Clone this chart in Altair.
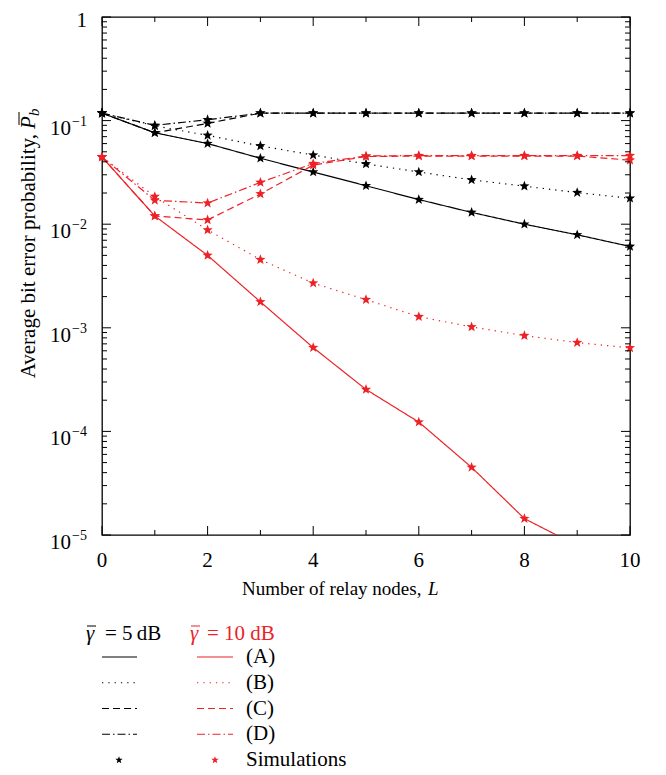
import math
import pandas as pd
import altair as alt

# ---------------- data ----------------
L = list(range(11))
snr_levels = ["5 dB", "10 dB"]
cases = ["A", "B", "C", "D"]

pb_5dB_A = [0.118, 0.0763, 0.060, 0.0433, 0.0319, 0.0235, 0.0173, 0.0130, 0.0100, 0.0079, 0.0061]
pb_5dB_B = [0.118, 0.089, 0.072, 0.057, 0.0465, 0.0382, 0.0319, 0.0268, 0.0233, 0.0202, 0.0178]
pb_5dB_C = [0.118, 0.0763, 0.094, 0.118, 0.118, 0.118, 0.118, 0.118, 0.118, 0.118, 0.118]
pb_5dB_D = [0.118, 0.090, 0.102, 0.118, 0.118, 0.118, 0.118, 0.118, 0.118, 0.118, 0.118]
pb_10dB_A = [0.0445, 0.0120, 0.0050, 0.00178, 0.000644, 0.000254, 0.000123, 0.000045, 0.0000144, 0.0000079, 0.0000040]
pb_10dB_B = [0.0445, 0.0185, 0.0088, 0.00455, 0.0027, 0.00187, 0.00128, 0.00102, 0.00084, 0.00072, 0.00064]
pb_10dB_C = [0.0445, 0.0120, 0.0110, 0.0196, 0.0372, 0.0450, 0.0455, 0.0455, 0.0455, 0.0455, 0.0415]
pb_10dB_D = [0.0445, 0.0170, 0.0160, 0.0253, 0.0385, 0.0455, 0.0460, 0.0460, 0.0460, 0.0460, 0.0460]

x_major = [0, 2, 4, 6, 8, 10]
x_labels = ["0", "2", "4", "6", "8", "10"]
x_minor = [1, 3, 5, 7, 9]
y_major = [1, 0.1, 0.01, 0.001, 0.0001, 0.00001]
y_base = ["1", "10", "10", "10", "10", "10"]
y_exp = ["", "\u22121", "\u22122", "\u22123", "\u22124", "\u22125"]
y_minor = [m * 10.0 ** e for e in range(-5, 0) for m in range(2, 10)]

legend_rows = ["(A)", "(B)", "(C)", "(D)", "Simulations"]
legend_headers = ["= 5\u2009dB", "= 10 dB"]

series = [
    ("5 dB", "A", pb_5dB_A), ("5 dB", "B", pb_5dB_B),
    ("5 dB", "C", pb_5dB_C), ("5 dB", "D", pb_5dB_D),
    ("10 dB", "A", pb_10dB_A), ("10 dB", "B", pb_10dB_B),
    ("10 dB", "C", pb_10dB_C), ("10 dB", "D", pb_10dB_D),
]
records = []
for snr, case, vals in series:
    for l, v in zip(L, vals):
        records.append({"L": l, "Pb": v, "snr": snr, "case": case, "key": snr + case})
df = pd.DataFrame(records)

# ---------------- styling ----------------
W, H = 528, 518
FONT = "Liberation Serif"
RED = "#ec2227"

pts = []
for k in range(10):
    a = math.radians(-90 + 36 * k)
    r = 1.0 if k % 2 == 0 else 0.42
    pts.append(f"{r * math.cos(a):.3f},{r * math.sin(a):.3f}")
STAR = "M" + " L".join(pts) + " Z"

xs = alt.Scale(domain=[0, 10], nice=False, zero=False)
ys = alt.Scale(type="log", domain=[1e-5, 1], nice=False)
color_scale = alt.Scale(domain=snr_levels, range=["black", RED])
dash_scale = alt.Scale(domain=cases, range=[[1, 0], [1.3, 5], [7, 4], [8, 3, 1.5, 3]])

X = alt.X("L:Q", scale=xs, axis=None)
Y = alt.Y("Pb:Q", scale=ys, axis=None)

lines = alt.Chart(df).mark_line(strokeWidth=1.2, clip=True).encode(
    x=X, y=Y,
    color=alt.Color("snr:N", scale=color_scale, legend=None),
    strokeDash=alt.StrokeDash("case:N", scale=dash_scale, legend=None),
    detail="key:N",
)
stars = alt.Chart(df).transform_filter("datum.Pb >= 1e-5").mark_point(
    shape=STAR, filled=True, size=115, opacity=1
).encode(x=X, y=Y, color=alt.Color("snr:N", scale=color_scale, legend=None))

# ticks (inside the frame, on all four sides)
tick_layers = []
for vals, ln in [(x_major, 9), (x_minor, 5)]:
    tdf = pd.DataFrame({"v": vals})
    base = alt.Chart(tdf).mark_rule(color="black", strokeWidth=1)
    tick_layers.append(base.encode(x=alt.X("v:Q", scale=xs, axis=None), y=alt.value(H), y2=alt.value(H - ln)))
    tick_layers.append(base.encode(x=alt.X("v:Q", scale=xs, axis=None), y=alt.value(0), y2=alt.value(ln)))
for vals, ln in [(y_major, 9), (y_minor, 5)]:
    tdf = pd.DataFrame({"v": vals})
    base = alt.Chart(tdf).mark_rule(color="black", strokeWidth=1)
    tick_layers.append(base.encode(y=alt.Y("v:Q", scale=ys, axis=None), x=alt.value(0), x2=alt.value(ln)))
    tick_layers.append(base.encode(y=alt.Y("v:Q", scale=ys, axis=None), x=alt.value(W), x2=alt.value(W - ln)))

# tick labels
xlab_df = pd.DataFrame({"v": x_major, "lab": x_labels})
xlabels = alt.Chart(xlab_df).mark_text(
    align="center", baseline="alphabetic", fontSize=21, font=FONT, color="black"
).encode(x=alt.X("v:Q", scale=xs, axis=None), y=alt.value(H + 32), text="lab:N")

ylab_df = pd.DataFrame({"v": y_major, "base": y_base, "exp": y_exp})
ybase = alt.Chart(ylab_df).transform_filter("datum.exp != ''").mark_text(
    align="right", baseline="alphabetic", dy=14, fontSize=21, font=FONT, color="black"
).encode(y=alt.Y("v:Q", scale=ys, axis=None), x=alt.value(-31), text="base:N")
yexp = alt.Chart(ylab_df).transform_filter("datum.exp != ''").mark_text(
    align="left", baseline="alphabetic", dy=5, fontSize=14, font=FONT, color="black"
).encode(y=alt.Y("v:Q", scale=ys, axis=None), x=alt.value(-30), text="exp:N")
yone = alt.Chart(ylab_df).transform_filter("datum.exp == ''").mark_text(
    align="right", baseline="alphabetic", dy=10, fontSize=21, font=FONT, color="black"
).encode(y=alt.Y("v:Q", scale=ys, axis=None), x=alt.value(-15), text="base:N")

# axis titles
one_row = pd.DataFrame({"t": ["Number of relay nodes,", "L", "Average bit error probability,", "P", "b"]})
def title_text(i, **kw):
    return alt.Chart(one_row).transform_filter(f"datum.t == '{one_row.t[i]}'").mark_text(
        font=FONT, color="black", baseline="alphabetic", **kw)

xt1 = title_text(0, align="left", fontSize=19).encode(text="t:N", x=alt.value(140), y=alt.value(H + 60))
xt2 = title_text(1, align="left", fontSize=19, fontStyle="italic").encode(text="t:N", x=alt.value(326), y=alt.value(H + 60))
yt1 = title_text(2, align="right", fontSize=21, angle=270).encode(text="t:N", x=alt.value(-67), y=alt.value(117))
yt2 = title_text(3, align="left", fontSize=21, angle=270, fontStyle="italic").encode(text="t:N", x=alt.value(-67), y=alt.value(112))
yt3 = title_text(4, align="left", fontSize=15, angle=270, fontStyle="italic").encode(text="t:N", x=alt.value(-63), y=alt.value(99))
ybar = alt.Chart(one_row.head(1)).mark_rule(color="black", strokeWidth=1).encode(
    x=alt.value(-83), y=alt.value(95), y2=alt.value(108))

main = alt.layer(lines, stars, *tick_layers, xlabels, ybase, yexp, yone,
                 xt1, xt2, yt1, yt2, yt3, ybar)

# ---------------- legend below the plot ----------------
ly = alt.Scale(type="point", domain=legend_rows, range=[640, 743], padding=0)
leg_lines_df = pd.DataFrame({"row": legend_rows[:4], "case": cases})
leg_black = alt.Chart(leg_lines_df).mark_rule(strokeWidth=1.2, color="black").encode(
    y=alt.Y("row:N", scale=ly, axis=None), x=alt.value(0), x2=alt.value(35),
    strokeDash=alt.StrokeDash("case:N", scale=dash_scale, legend=None))
leg_red = alt.Chart(leg_lines_df).mark_rule(strokeWidth=1.2, color=RED).encode(
    y=alt.Y("row:N", scale=ly, axis=None), x=alt.value(95), x2=alt.value(131),
    strokeDash=alt.StrokeDash("case:N", scale=dash_scale, legend=None))
leg_text = alt.Chart(pd.DataFrame({"row": legend_rows})).mark_text(
    align="left", baseline="middle", fontSize=21, font=FONT, color="black"
).encode(y=alt.Y("row:N", scale=ly, axis=None), x=alt.value(144), text="row:N")
sim_df = pd.DataFrame({"row": ["Simulations"]})
leg_star_b = alt.Chart(sim_df).mark_point(shape=STAR, filled=True, size=60, opacity=1, color="black").encode(
    y=alt.Y("row:N", scale=ly, axis=None), x=alt.value(17))
leg_star_r = alt.Chart(sim_df).mark_point(shape=STAR, filled=True, size=60, opacity=1, color=RED).encode(
    y=alt.Y("row:N", scale=ly, axis=None), x=alt.value(113))

hdr_df = pd.DataFrame({"g": ["\u03b3"], "b": [legend_headers[0]], "r": [legend_headers[1]]})
hdr_g_b = alt.Chart(hdr_df).mark_text(align="left", baseline="alphabetic", fontSize=21, font=FONT,
                                     fontStyle="italic", color="black").encode(
    text="g:N", x=alt.value(-16), y=alt.value(623))
hdr_t_b = alt.Chart(hdr_df).mark_text(align="left", baseline="alphabetic", fontSize=21, font=FONT,
                                     color="black").encode(text="b:N", x=alt.value(3), y=alt.value(623))
hdr_g_r = alt.Chart(hdr_df).mark_text(align="left", baseline="alphabetic", fontSize=21, font=FONT,
                                     fontStyle="italic", color=RED).encode(
    text="g:N", x=alt.value(88), y=alt.value(623))
hdr_t_r = alt.Chart(hdr_df).mark_text(align="left", baseline="alphabetic", fontSize=21, font=FONT,
                                     color=RED).encode(text="r:N", x=alt.value(105), y=alt.value(623))
bar_b = alt.Chart(hdr_df).mark_rule(color="black", strokeWidth=1).encode(
    x=alt.value(-15), x2=alt.value(-6), y=alt.value(609))
bar_r = alt.Chart(hdr_df).mark_rule(color=RED, strokeWidth=1).encode(
    x=alt.value(89), x2=alt.value(98), y=alt.value(609))

legend = alt.layer(leg_black, leg_red, leg_text, leg_star_b, leg_star_r,
                   hdr_g_b, hdr_t_b, hdr_g_r, hdr_t_r, bar_b, bar_r)

chart = alt.layer(main, legend).resolve_scale(y="independent").properties(
    width=W, height=H,
    padding={"left": 94, "top": 9, "right": 28, "bottom": 237},
    autosize=alt.AutoSizeParams(type="none"),
    background="white",
).configure_view(stroke="black", strokeWidth=1.3)

chart.save("out.html", embed_options={"renderer": "svg", "actions": False})
